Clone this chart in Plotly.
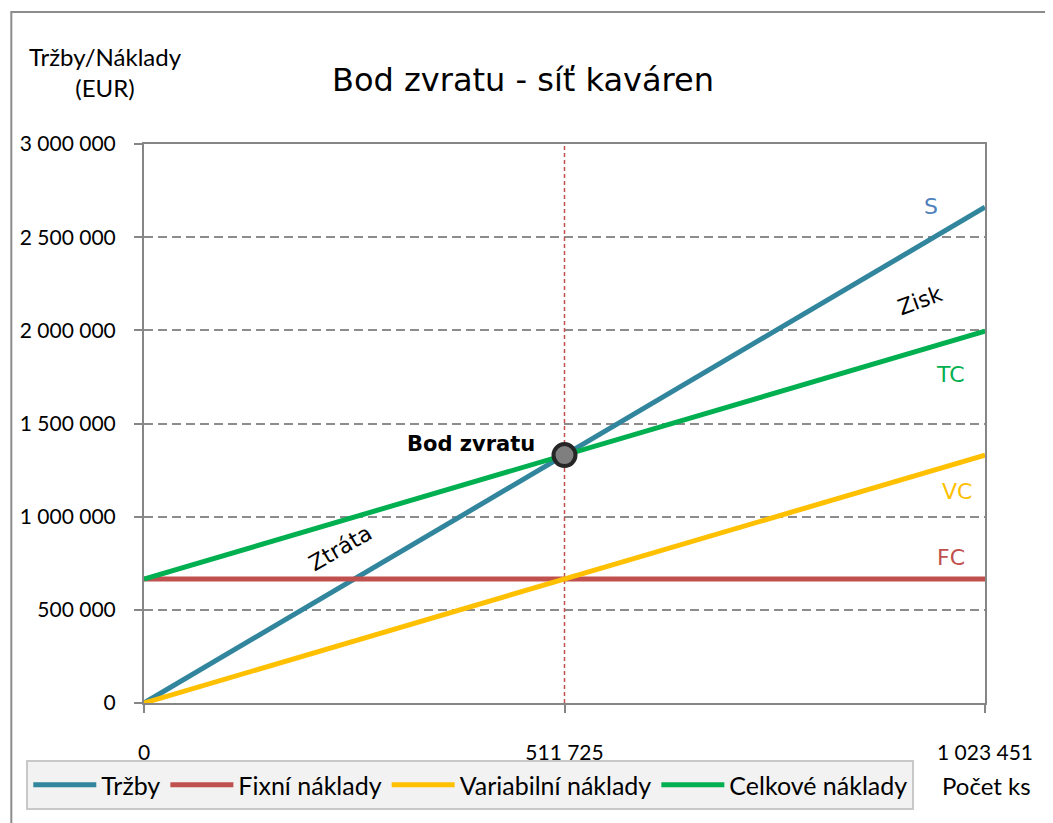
import plotly.graph_objects as go

# Data
q_max = 1023451
q_be = 511725
price = 2.6          # EUR per unit (sales)
var_cost = 1.3       # EUR per unit (variable)
fixed_cost = 665243  # EUR

x_vals = [0, q_max]
sales = [0, price * q_max]
fixed = [fixed_cost, fixed_cost]
variable = [0, var_cost * q_max]
total = [fixed_cost, fixed_cost + var_cost * q_max]
be_value = price * q_be

y_tickvals = [0, 500000, 1000000, 1500000, 2000000, 2500000, 3000000]
y_ticktext = ["0", "500 000", "1 000 000", "1 500 000", "2 000 000", "2 500 000", "3 000 000"]
x_tickvals = [0, q_be, q_max]
x_ticktext = ["0", "511 725", "1 023 451"]

series_names = ["Tržby", "Fixní náklady", "Variabilní náklady", "Celkové náklady"]
series_colors = ["#31859c", "#c0504d", "#ffc000", "#00b050"]

LAB = "Lato, 'Open Sans', sans-serif"
DJ = "DejaVu Sans, Verdana, sans-serif"

OFF = 8  # page body margin
L, T, R, B = 142 - OFF, 144 - OFF, 985 - OFF, 703 - OFF

fig = go.Figure()

# break-even vertical dashed line
fig.add_trace(go.Scatter(x=[q_be, q_be], y=[0, 3000000], mode="lines",
                         line=dict(color="#c0504d", width=1.5, dash="4px,3px"),
                         showlegend=False, hoverinfo="skip"))

for name, ys, col in zip(series_names, [sales, fixed, variable, total], series_colors):
    fig.add_trace(go.Scatter(x=x_vals, y=ys, mode="lines", name=name,
                             line=dict(color=col, width=5)))

fig.add_trace(go.Scatter(x=[q_be], y=[be_value], mode="markers", showlegend=False,
                         marker=dict(size=22, color="#7f7f7f",
                                     line=dict(color="#262626", width=4))))

fig.update_layout(
    width=1053, height=823,
    margin=dict(l=L, r=1053 - R, t=T, b=823 - B),
    paper_bgcolor="white", plot_bgcolor="white",
    showlegend=True,
    legend=dict(orientation="h", x=(24 - 142) / 843, y=(703 - 760) / 559,
                xanchor="left", yanchor="top",
                bgcolor="#f2f2f2", bordercolor="#c8c8c8", borderwidth=2,
                font=dict(family=LAB, size=25, color="black"),
                itemwidth=63, tracegroupgap=0),
    title=dict(text="Bod zvratu - síť kaváren", x=(523 - OFF) / 1053, xanchor="center",
               y=1 - (80 - OFF) / 823, yanchor="middle",
               font=dict(family=DJ, size=32, color="black")),
)

fig.update_xaxes(range=[0, q_max], tickvals=x_tickvals, ticktext=x_ticktext,
                 showgrid=False, zeroline=False,
                 showline=True, linecolor="#868686", linewidth=2, mirror=True,
                 ticks="outside", ticklen=8, tickcolor="#868686", tickwidth=2,
                 ticklabelstandoff=22,
                 tickfont=dict(family=LAB, size=21, color="black"))
fig.update_yaxes(range=[0, 3000000], tickvals=y_tickvals, ticktext=y_ticktext,
                 showgrid=True, gridcolor="#8c8c8c", gridwidth=1.5, griddash="9px,5px",
                 zeroline=False,
                 showline=True, linecolor="#868686", linewidth=2, mirror=True,
                 ticks="outside", ticklen=8, tickcolor="#868686", tickwidth=2,
                 ticklabelstandoff=14,
                 tickfont=dict(family=LAB, size=21, color="black"))

def px_to_paper(px, py):
    return (px - 142) / 843, (703 - py) / 559

# outer chart frame
fx0, fy1 = px_to_paper(9, 12)
fig.add_shape(type="rect", xref="paper", yref="paper",
              x0=fx0, x1=1.3, y0=-0.4, y1=fy1,
              line=dict(color="#8c8c8c", width=2), layer="below")

annots = [
    ("S", 931, 207, "#4f81bd", 22, 0, False),
    ("Zisk", 920, 300, "black", 22, -20, False),
    ("TC", 950, 374, "#00b050", 22, 0, False),
    ("VC", 957, 491, "#ffc000", 22, 0, False),
    ("FC", 951, 557, "#c0504d", 22, 0, False),
    ("Ztráta", 338, 548, "black", 22, -30, False),
    ("Bod zvratu", 470, 444, "black", 21, 0, True),
]
for text, px, py, col, sz, ang, bold in annots:
    ax, ay = px_to_paper(px, py)
    fig.add_annotation(xref="paper", yref="paper", x=ax, y=ay,
                       text=f"<b>{text}</b>" if bold else text,
                       showarrow=False, textangle=ang, xanchor="center", yanchor="middle",
                       font=dict(family=DJ, size=sz, color=col))

ax, ay = px_to_paper(103, 72)
fig.add_annotation(xref="paper", yref="paper", x=ax, y=ay, text="Tržby/Náklady<br>(EUR)",
                   showarrow=False, xanchor="center", yanchor="middle", align="center",
                   font=dict(family=LAB, size=24, color="black"))
ax, ay = px_to_paper(987, 785)
fig.add_annotation(xref="paper", yref="paper", x=ax, y=ay, text="Počet ks",
                   showarrow=False, xanchor="center", yanchor="middle",
                   font=dict(family=LAB, size=24, color="black"))

fig.write_html("out.html")
